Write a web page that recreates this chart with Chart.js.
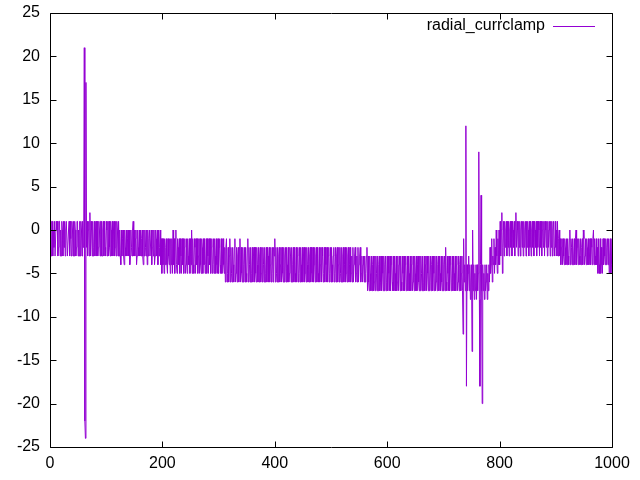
<!DOCTYPE html>
<html>
<head>
<meta charset="utf-8">
<script src="https://cdn.jsdelivr.net/npm/chart.js@4/dist/chart.umd.min.js"></script>
<style>
html,body{margin:0;padding:0;background:#fff;}
#wrap{width:640px;height:480px;}
</style>
</head>
<body>
<div id="wrap"><canvas id="c" width="640" height="480"></canvas></div>
<script>
// Series name
const seriesLabel = "radial_currclamp";
// Tick labels
const xTicks = [0, 200, 400, 600, 800, 1000];
const yTicks = [-25, -20, -15, -10, -5, 0, 5, 10, 15, 20, 25];
// Sample values, x = 0 .. 1000 (one per step)
const current = [
 1,0,-3,1,1,-3,0,-2,1,-3,-3,1,0,1,-3,-2,1,1,-3,0,
 -3,1,0,-3,1,-2,1,-3,0,1,1,-3,-3,0,1,-3,1,-1,-3,1,
 0,-3,1,-3,1,0,-3,-2,1,1,-3,0,-3,1,-3,1,0,-3,1,-2,
 0,21,-22,-24,17,-2,1,-3,0,1,-3,2,-3,1,0,-3,1,-3,-2,1,
 -3,0,1,-3,1,-3,-2,1,0,-3,1,1,-3,-3,0,1,-3,1,-2,-3,
 1,0,-3,1,-3,1,-2,-3,1,0,-3,1,-3,0,1,-3,-2,1,-3,1,
 0,-3,1,-3,0,-3,-4,0,-3,-1,0,-3,-4,0,-2,-3,0,-3,-1,0,
 -3,0,-4,-3,0,-2,-3,0,1,-3,0,-3,-1,0,-4,-3,0,-2,-3,0,
 -3,0,-3,-1,0,-3,-4,0,-3,0,-2,-3,0,-4,0,-3,-1,0,-3,-3,
 0,-4,-2,0,-3,0,-4,-3,0,-1,-3,0,-4,0,-3,-2,0,-4,-1,-5,
 -1,-4,-1,-5,-1,-4,-2,-1,-4,-5,-1,-3,-4,-1,-5,-1,-4,-1,-5,0,
 -4,-1,-5,-1,0,-4,-5,-1,-2,-4,-1,-5,-1,-3,-5,-1,-4,-1,-5,-2,
 -1,-5,-4,-1,-5,-1,-3,-4,-1,-5,-1,-4,0,-5,-1,-4,-5,-1,-2,-5,
 -1,-4,-1,-5,-3,-1,-5,-1,-4,-5,-1,-2,-5,-1,-4,-1,-5,-4,-1,-5,
 -1,-3,-5,-1,-4,-1,-5,-2,-1,-5,-4,-1,-5,-1,-3,-5,-1,-4,-5,-1,
 -5,-2,-1,-4,-5,-1,-5,-3,-1,-4,-5,-2,-6,-2,-1,-6,-5,-2,-6,-3,
 -1,-6,-2,-5,-6,-2,-4,-6,-2,-1,-6,-5,-2,-6,-3,-2,-6,-2,-1,-6,
 -2,-5,-6,-2,-6,-4,-2,-6,-2,-5,-6,-2,-1,-6,-2,-4,-6,-2,-6,-5,
 -2,-6,-3,-2,-6,-2,-5,-6,-2,-4,-6,-2,-6,-3,-2,-6,-5,-2,-6,-2,
 -4,-6,-2,-6,-5,-2,-6,-2,-3,-6,-2,-6,-4,-2,-6,-5,-2,-6,-2,-3,
 -1,-6,-2,-5,-6,-2,-6,-3,-2,-6,-4,-2,-6,-2,-5,-6,-2,-6,-3,-2,
 -6,-2,-4,-6,-2,-6,-5,-2,-3,-6,-2,-6,-4,-2,-6,-2,-5,-6,-2,-6,
 -3,-2,-6,-5,-2,-6,-2,-4,-6,-2,-6,-3,-2,-6,-5,-2,-6,-2,-4,-6,
 -2,-6,-3,-2,-6,-2,-5,-6,-2,-6,-4,-2,-6,-3,-2,-6,-2,-5,-6,-2,
 -6,-4,-2,-6,-2,-3,-6,-5,-2,-6,-2,-4,-6,-2,-6,-3,-2,-6,-5,-2,
 -6,-2,-4,-6,-3,-2,-6,-5,-2,-6,-3,-2,-6,-4,-2,-6,-2,-5,-6,-2,
 -6,-3,-2,-6,-4,-2,-6,-5,-2,-6,-3,-2,-6,-4,-2,-6,-5,-3,-6,-2,
 -6,-4,-3,-2,-6,-5,-3,-6,-2,-6,-4,-3,-2,-6,-5,-3,-6,-4,-3,-6,
 -3,-6,-5,-3,-2,-7,-3,-6,-7,-3,-5,-7,-3,-7,-4,-3,-7,-6,-3,-7,
 -3,-5,-7,-3,-7,-4,-3,-7,-6,-3,-7,-3,-5,-7,-3,-7,-4,-3,-7,-6,
 -3,-7,-3,-5,-7,-3,-7,-4,-3,-6,-7,-3,-7,-3,-5,-7,-3,-7,-6,-3,
 -7,-4,-3,-7,-3,-6,-7,-3,-5,-7,-3,-7,-4,-3,-7,-6,-3,-7,-3,-5,
 -7,-3,-7,-4,-3,-7,-6,-3,-7,-3,-5,-7,-3,-7,-4,-3,-6,-7,-3,-7,
 -3,-5,-7,-3,-7,-6,-3,-7,-4,-3,-7,-3,-5,-7,-3,-7,-6,-3,-7,-4,
 -3,-7,-3,-5,-7,-3,-7,-6,-3,-7,-4,-3,-7,-3,-5,-7,-3,-6,-7,-3,
 -7,-4,-3,-7,-2,-6,-7,-3,-5,-7,-3,-7,-4,-3,-7,-6,-3,-7,-3,-5,
 -7,-3,-7,-4,-3,-7,-6,-3,-7,-4,-3,-7,-5,-3,-7,-12,-1,-6,-4,-7,
 12,-18,-4,-7,-5,-3,-7,-4,-8,-6,-4,-14,0,-7,-4,-8,-5,-7,-4,-8,
 -4,-7,-5,9,-8,-18,-4,4,-7,-20,-4,-7,-5,-8,-4,-7,-6,-4,-8,-5,
 -7,-4,-6,-2,-5,-4,-1,-6,-3,-4,-1,-5,-2,-4,0,-3,-5,-1,-4,0,
 -4,1,-3,0,2,-5,-2,1,-3,1,-2,0,1,-3,1,-2,1,-3,0,1,
 -2,1,-3,1,0,-2,1,-3,1,2,-2,1,0,-3,1,-2,1,-3,0,1,
 -2,1,-3,1,-2,0,1,-3,1,-2,1,0,-3,1,-2,1,-3,0,1,-2,
 1,-3,1,0,-2,1,-3,1,-2,1,0,-3,1,-2,1,-3,0,1,-2,1,
 -3,1,0,-2,1,-3,1,-2,0,1,-3,1,-2,1,-3,0,1,-2,-3,1,
 -2,0,-3,1,-3,-1,0,-3,-1,-4,-2,-1,-4,-1,-3,-4,-1,-2,-4,-1,
 -4,-1,-3,-4,-1,0,-4,-1,-2,-4,-1,-4,-3,-1,-4,-1,0,-4,-2,-1,
 -4,-1,-3,-4,-1,-4,-2,-1,-4,0,-1,-4,-3,-1,-4,-1,-2,-4,-1,-4,
 -3,-1,-4,-1,-2,-4,-1,0,-4,-1,-3,-4,-1,-4,-2,-5,-1,-4,-5,-1,
 -5,-2,-4,-5,-1,-4,-1,-3,-4,-1,-4,-2,-1,-4,-1,-5,-3,-1,-5,-4,
 -1
];
const sampleIndex = current.map((_, i) => i);

const FONT = "'Liberation Sans', Arial, sans-serif";
const LINE_COLOR = "#9400d3";

const framePlugin = {
  id: 'frame',
  afterDatasetsDraw(chart) {
    const ctx = chart.ctx;
    const a = chart.chartArea;
    const xs = chart.scales.x, ys = chart.scales.y;
    const L = Math.round(a.left) + 0.5, R = Math.round(a.right) + 0.5;
    const T = Math.round(a.top) + 0.5, B = Math.round(a.bottom) + 0.5;
    ctx.save();
    ctx.strokeStyle = '#000';
    ctx.lineWidth = 1;
    ctx.beginPath();
    ctx.rect(L, T, R - L, B - T);
    const tl = 6;
    xTicks.forEach(v => {
      const p = Math.round(xs.getPixelForValue(v)) + 0.5;
      ctx.moveTo(p, B); ctx.lineTo(p, B - tl);
      ctx.moveTo(p, T); ctx.lineTo(p, T + tl);
    });
    yTicks.forEach(v => {
      const p = Math.round(ys.getPixelForValue(v)) + 0.5;
      ctx.moveTo(L, p); ctx.lineTo(L + tl, p);
      ctx.moveTo(R, p); ctx.lineTo(R - tl, p);
    });
    ctx.stroke();
    // key
    ctx.font = "16px " + FONT;
    ctx.fillStyle = '#000';
    ctx.textAlign = 'right';
    ctx.textBaseline = 'middle';
    ctx.fillText(chart.data.datasets[0].label, 545, 26);
    ctx.strokeStyle = chart.data.datasets[0].borderColor;
    ctx.beginPath();
    ctx.moveTo(553, 26.5); ctx.lineTo(595, 26.5);
    ctx.stroke();
    ctx.restore();
  }
};

new Chart(document.getElementById('c'), {
  type: 'line',
  data: {
    datasets: [{
      label: seriesLabel,
      data: current.map((v, i) => ({ x: sampleIndex[i], y: v })),
      borderColor: LINE_COLOR,
      borderWidth: 1,
      pointRadius: 0,
      tension: 0,
      fill: false
    }]
  },
  options: {
    responsive: false,
    animation: false,
    events: [],
    layout: { padding: { left: 0, right: 28, top: 13, bottom: 0 } },
    plugins: { legend: { display: false }, tooltip: { enabled: false } },
    scales: {
      x: {
        type: 'linear', min: 0, max: 1000,
        afterFit(s) { s.height = 33; s.paddingLeft = 0; s.paddingRight = 0; },
        afterBuildTicks(s) { s.ticks = xTicks.map(v => ({ value: v })); },
        grid: { display: false, drawTicks: false },
        border: { display: false },
        ticks: { color: '#000', padding: 7, maxRotation: 0, font: { family: FONT, size: 16 },
                 callback: v => String(v) }
      },
      y: {
        type: 'linear', min: -25, max: 25,
        afterFit(s) { s.width = 50; s.paddingTop = 0; s.paddingBottom = 0; },
        afterBuildTicks(s) { s.ticks = yTicks.map(v => ({ value: v })); },
        grid: { display: false, drawTicks: false },
        border: { display: false },
        ticks: { color: '#000', padding: 10, font: { family: FONT, size: 16 },
                 callback: v => String(v) }
      }
    }
  },
  plugins: [framePlugin]
});
</script>
</body>
</html>
